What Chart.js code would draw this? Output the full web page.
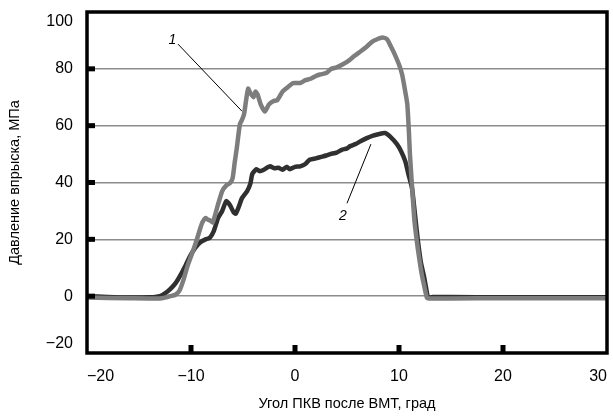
<!DOCTYPE html>
<html lang="ru">
<head>
    <meta charset="UTF-8">
    <title>Давление впрыска</title>
    <script src="https://cdn.jsdelivr.net/npm/chart.js"></script>
    <style>
        body { margin: 0; background: white; }
        #wrap { width: 613px; height: 417px; }
    </style>
</head>
<body>
    <div id="wrap"><canvas id="pressureChart"></canvas></div>

    <script>
        // Curve 1 (light grey) - angle, pressure
        const angles1 = [-20, -16, -13, -12.5, -12, -11.5, -11.1, -10.7, -10.3, -9.8, -9.4, -9.1, -8.9, -8.6, -8.4, -8.1, -7.9, -7.5, -7.0, -6.6, -6.25, -6.0, -5.8, -5.6, -5.3, -5.1, -4.9, -4.7, -4.5, -4.3, -4.0, -3.8, -3.6, -3.3, -2.9, -2.5, -2.1, -1.7, -1.2, -0.7, -0.2, 0.5, 1.0, 1.5, 2.0, 2.4, 3.0, 3.5, 4.0, 4.6, 5.2, 5.7, 6.25, 6.8, 7.4, 7.9, 8.4, 8.85, 9.2, 9.6, 10.0, 10.3, 10.6, 10.8, 10.95, 11.05, 11.3, 11.5, 11.8, 12.0, 12.2, 12.4, 12.7, 13.0, 15, 20, 30];
        const pressure1 = [-0.5, -0.7, -0.8, -0.5, 0, 0.5, 2, 6, 11, 16, 20.4, 24, 26, 27.5, 27, 26.5, 26, 31, 37, 39, 39.8, 41.5, 47, 52, 60.5, 62, 64, 69, 73, 71.5, 70, 72, 71, 67.5, 65, 67.5, 68.6, 69, 72, 73.5, 75, 75, 76, 76.5, 77.5, 78, 78.5, 80, 80.5, 81.6, 83, 84.5, 86, 87.5, 89.5, 90.4, 91, 90.4, 88, 85, 81.5, 78, 72, 67.5, 58, 50, 36, 26, 17, 12, 7.5, 4, -0.7, -0.8, -0.8, -0.7, -0.7];

        // Curve 2 (dark)
        const angles2 = [-20, -18, -16, -14, -13, -12.5, -12, -11.5, -11, -10.5, -10.1, -9.6, -9.1, -8.6, -8.2, -7.8, -7.4, -7.0, -6.6, -6.25, -5.9, -5.7, -5.4, -5.1, -4.6, -4.3, -4.1, -3.7, -3.4, -3.1, -2.7, -2.4, -2.0, -1.6, -1.2, -0.8, -0.5, 0, 0.5, 1.0, 1.4, 2.0, 2.5, 3.0, 3.4, 4.0, 4.5, 5.0, 5.3, 5.8, 6.3, 6.9, 7.5, 8.0, 8.65, 9.2, 9.8, 10.2, 10.6, 10.9, 11.25, 11.5, 11.8, 12.1, 12.4, 12.6, 12.8, 13.2, 15, 20, 25, 30];
        const pressure2 = [0, -0.3, -0.5, -0.4, 0, 1, 2.5, 4.5, 7.5, 11, 14, 17, 19, 20, 20.5, 23, 27.5, 30, 33.5, 32, 29.5, 29, 31.5, 34.5, 37, 39.5, 43, 44.7, 44, 44.3, 45.2, 45.7, 45, 45.2, 44.5, 45.5, 44.7, 45.5, 45.7, 46.5, 48, 48.5, 49, 49.5, 50, 50.5, 51.5, 52, 52.8, 53.5, 54.5, 55.6, 56.5, 57, 57.4, 56, 53.5, 51, 47.5, 43, 38, 30, 20, 12, 7, 3, -0.5, -0.3, -0.3, -0.4, -0.4, -0.4];

        const xTicks = [-20, -10, 0, 10, 20, 30];
        const yTicks = [-20, 0, 20, 40, 60, 80, 100];

        // labels "1" and "2" with leader lines
        const callouts = [
            { text: '1', at: [-11.8, 90], from: [-11.25, 88.7], to: [-5.1, 65.1] },
            { text: '2', at: [4.6, 28], from: [5.0, 32.7], to: [7.3, 53.5] }
        ];

        const fontFamily = "'Liberation Sans', Arial, sans-serif";
        const minus = v => String(v).replace('-', '\u2212');

        // frame, inner tick marks and callouts
        const framePlugin = {
            id: 'frame',
            afterDatasetsDraw(chart) {
                const { ctx, chartArea: a, scales: { x, y } } = chart;
                ctx.save();
                ctx.fillStyle = '#000';
                yTicks.slice(1, -1).forEach(v => {
                    const py = y.getPixelForValue(v);
                    ctx.fillRect(a.left, py - 2.5, 8, 5);
                });
                xTicks.slice(1, -1).forEach(v => {
                    const px = x.getPixelForValue(v);
                    ctx.fillRect(px - 2.5, a.bottom - 8, 5, 8);
                });
                ctx.strokeStyle = '#000';
                ctx.lineWidth = 3.5;
                ctx.strokeRect(a.left, a.top, a.right - a.left, a.bottom - a.top);

                ctx.lineWidth = 1;
                ctx.font = 'italic 14px ' + fontFamily;
                ctx.textAlign = 'center';
                ctx.textBaseline = 'middle';
                callouts.forEach(c => {
                    ctx.beginPath();
                    ctx.moveTo(x.getPixelForValue(c.from[0]), y.getPixelForValue(c.from[1]));
                    ctx.lineTo(x.getPixelForValue(c.to[0]), y.getPixelForValue(c.to[1]));
                    ctx.stroke();
                    ctx.fillText(c.text, x.getPixelForValue(c.at[0]), y.getPixelForValue(c.at[1]));
                });
                ctx.restore();
            }
        };

        const ctx = document.getElementById('pressureChart').getContext('2d');
        new Chart(ctx, {
            type: 'line',
            data: {
                datasets: [
                    {
                        label: '1',
                        data: angles1.map((a, i) => ({ x: a, y: pressure1[i] })),
                        borderColor: '#7d7d7d',
                        borderWidth: 4.5,
                        pointRadius: 0,
                        tension: 0.2
                    },
                    {
                        label: '2',
                        data: angles2.map((a, i) => ({ x: a, y: pressure2[i] })),
                        borderColor: '#303030',
                        borderWidth: 4.5,
                        pointRadius: 0,
                        tension: 0.2
                    }
                ]
            },
            options: {
                responsive: true,
                maintainAspectRatio: false,
                animation: false,
                layout: { padding: { top: 12, right: 6, left: 0, bottom: 0 } },
                plugins: {
                    legend: { display: false },
                    tooltip: { enabled: false }
                },
                scales: {
                    x: {
                        type: 'linear',
                        min: -20,
                        max: 30,
                        afterBuildTicks: s => { s.ticks = xTicks.map(v => ({ value: v })); },
                        afterFit: s => { s.height = 64; s.paddingLeft = 0; s.paddingRight = 0; },
                        grid: { display: false, drawTicks: false },
                        border: { display: false },
                        ticks: {
                            padding: 14,
                            align: 'inner',
                            color: '#000',
                            font: { family: fontFamily, size: 16 },
                            callback: v => minus(v)
                        },
                        title: {
                            display: true,
                            text: 'Угол ПКВ после ВМТ, град',
                            color: '#000',
                            font: { family: fontFamily, size: 14.5 },
                            padding: { top: 0, bottom: 4 }
                        }
                    },
                    y: {
                        min: -20,
                        max: 100,
                        afterBuildTicks: s => { s.ticks = yTicks.map(v => ({ value: v })); },
                        afterFit: s => { s.width = 87; s.paddingTop = 0; s.paddingBottom = 0; },
                        grid: {
                            drawTicks: false,
                            lineWidth: 1.5,
                            color: c => (c.tick && (c.tick.value === -20 || c.tick.value === 100)) ? 'rgba(0,0,0,0)' : '#8c8c8c'
                        },
                        border: { display: false },
                        ticks: {
                            padding: 14,
                            color: '#000',
                            font: { family: fontFamily, size: 16 },
                            // end labels sit just inside the frame
                            callback: v => v === 100 ? ['', minus(v)] : v === -20 ? [minus(v), ''] : minus(v)
                        },
                        title: {
                            display: true,
                            text: 'Давление впрыска, МПа',
                            color: '#000',
                            font: { family: fontFamily, size: 14.5 },
                            padding: { top: 6, bottom: 8 }
                        }
                    }
                }
            },
            plugins: [framePlugin]
        });
    </script>
</body>
</html>
